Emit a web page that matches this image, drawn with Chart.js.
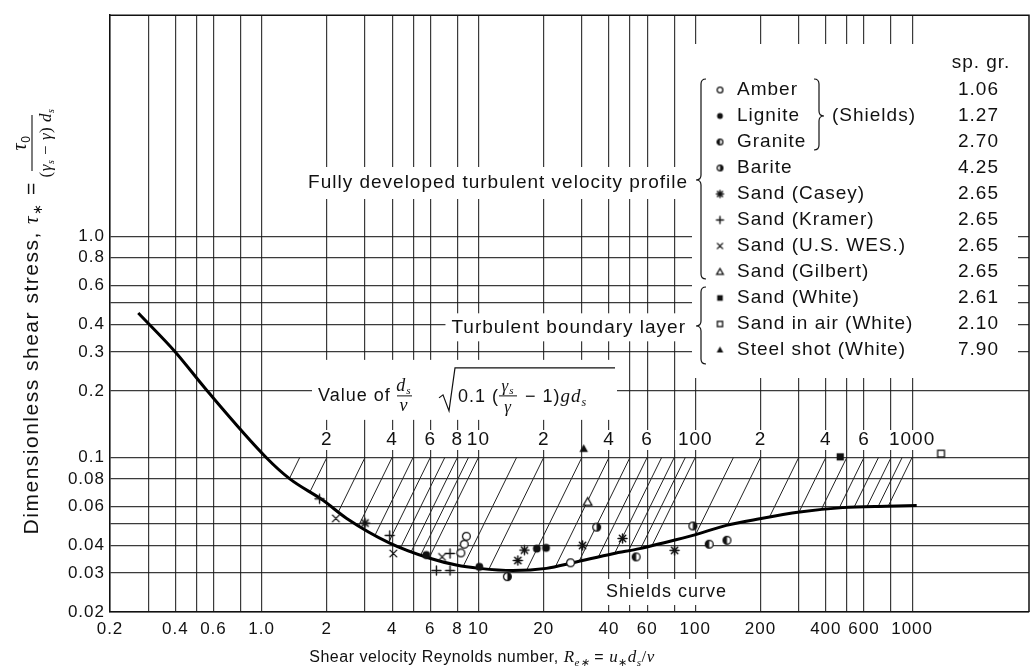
<!DOCTYPE html>
<html>
<head>
<meta charset="utf-8">
<title>Shields diagram</title>
<script src="https://cdn.jsdelivr.net/npm/chart.js@4.4.1/dist/chart.umd.min.js"></script>
<style>
  html, body { margin: 0; padding: 0; background: #fff; }
  canvas { display: block; }
</style>
</head>
<body>
<canvas id="shields" width="1035" height="668"></canvas>
<script>
// Shields curve (shear velocity Reynolds number, dimensionless shear stress)
const curveR   = [0.27, 0.40, 0.55, 1.05, 1.35, 1.92, 2.47, 3.9, 5.97, 7.9, 10.1, 14.4, 20.6, 27.3, 41.7, 55.4, 68.5, 97.5, 139, 198, 303, 479, 759, 1050];
const curveTau = [0.45, 0.30, 0.205, 0.10, 0.08, 0.064, 0.053, 0.041, 0.035, 0.0326, 0.0315, 0.0308, 0.0315, 0.0334, 0.0367, 0.0387, 0.0407, 0.0444, 0.0493, 0.0528, 0.0566, 0.0593, 0.0602, 0.0606];

// Lines of constant (d_s/ν)·√(0.1(γs/γ−1)g d_s); each one leaves τ* = 0.1 at R* equal to its value
const nomoValues = [1.5, 2, 3, 4, 5, 6, 7, 8, 9, 10, 15, 20, 30, 40, 50, 60, 70, 80, 90, 100, 150, 200, 300, 400, 500, 600, 700, 800, 900, 1000];
const nomoTicks  = [2, 4, 6, 8, 10, 20, 40, 60, 100, 200, 400, 600, 1000];
const nomoLabels = ['2', '4', '6', '8', '10', '2', '4', '6', '100', '2', '4', '6', '1000'];

// Axes
const xGrid = [0.2, 0.3, 0.4, 0.5, 0.6, 0.8, 1, 2, 3, 4, 5, 6, 8, 10, 20, 30, 40, 50, 60, 80, 100, 200, 300, 400, 500, 600, 800, 1000];
const xLabelValues = [0.2, 0.4, 0.6, 1, 2, 4, 6, 8, 10, 20, 40, 60, 100, 200, 400, 600, 1000];
const xLabelTexts  = ['0.2', '0.4', '0.6', '1.0', '2', '4', '6', '8', '10', '20', '40', '60', '100', '200', '400', '600', '1000'];
const yGrid = [0.02, 0.03, 0.04, 0.05, 0.06, 0.08, 0.1, 0.2, 0.3, 0.4, 0.5, 0.6, 0.8, 1];
const yLabelValues = [0.02, 0.03, 0.04, 0.06, 0.08, 0.1, 0.2, 0.3, 0.4, 0.6, 0.8, 1];
const yLabelTexts  = ['0.02', '0.03', '0.04', '0.06', '0.08', '0.1', '0.2', '0.3', '0.4', '0.6', '0.8', '1.0'];

// Experimental points (R*, τ*)
const amberR     = [8.3, 8.6, 8.8, 26.6];          const amberTau     = [0.037, 0.0405, 0.044, 0.0334];
const ligniteR   = [5.75, 10.1, 18.6, 20.5];       const ligniteTau   = [0.0362, 0.032, 0.0387, 0.039];
const graniteR   = [53.4, 116, 140];               const graniteTau   = [0.0355, 0.0405, 0.0422];
const bariteR    = [13.6, 35.1, 97.5];             const bariteTau    = [0.0289, 0.0484, 0.049];
const caseyR     = [3.0, 15.2, 16.3, 30.2, 46.2, 80.3]; const caseyTau = [0.0505, 0.0342, 0.0381, 0.040, 0.043, 0.038];
const kramerR    = [1.85, 3.9, 6.4, 7.4, 7.4];     const kramerTau    = [0.065, 0.0444, 0.0308, 0.0308, 0.0368];
const wesR       = [2.2, 4.05, 6.8];               const wesTau       = [0.053, 0.0368, 0.0355];
const gilbertR   = [31.9];                         const gilbertTau   = [0.0628];
const whiteSandR = [466];                          const whiteSandTau = [0.1006];
const airSandR   = [1360];                         const airSandTau   = [0.104];
const steelR     = [30.6];                         const steelTau     = [0.1095];

const seriesNames = ['Amber', 'Lignite', 'Granite', 'Barite', 'Sand (Casey)', 'Sand (Kramer)', 'Sand (U.S. WES.)', 'Sand (Gilbert)', 'Sand (White)', 'Sand in air (White)', 'Steel shot (White)'];
const specificGravity = ['1.06', '1.27', '2.70', '4.25', '2.65', '2.65', '2.65', '2.65', '2.61', '2.10', '7.90'];
const seriesR   = [amberR, ligniteR, graniteR, bariteR, caseyR, kramerR, wesR, gilbertR, whiteSandR, airSandR, steelR];
const seriesTau = [amberTau, ligniteTau, graniteTau, bariteTau, caseyTau, kramerTau, wesTau, gilbertTau, whiteSandTau, airSandTau, steelTau];
const markerKinds = ['circleOpen', 'circleFilled', 'circleHalfL', 'circleHalfR', 'asterisk', 'plus', 'cross', 'triangleOpen', 'squareFilled', 'squareOpen', 'triangleFilled'];

const INK = '#111';
const SANS = '"Liberation Sans", Arial, Helvetica, sans-serif';
const SERIF = '"Liberation Serif", "Times New Roman", serif';

// ---------- marker glyphs ----------
function makeMarker(kind, size) {
  const s = Math.ceil(size + 4);
  const c = document.createElement('canvas');
  c.width = s; c.height = s;
  const g = c.getContext('2d');
  const m = s / 2, r = size / 2;
  g.strokeStyle = INK; g.fillStyle = INK; g.lineWidth = 1.3; g.lineCap = 'round';
  const circle = () => { g.beginPath(); g.arc(m, m, r - 0.6, 0, Math.PI * 2); };
  switch (kind) {
    case 'circleOpen':
      circle(); g.fillStyle = '#fff'; g.fill(); g.stroke(); break;
    case 'circleFilled':
      circle(); g.fill(); break;
    case 'circleHalfL':
    case 'circleHalfR': {
      circle(); g.fillStyle = '#fff'; g.fill();
      g.fillStyle = INK; g.beginPath();
      if (kind === 'circleHalfL') g.arc(m, m, r - 0.6, Math.PI / 2, Math.PI * 1.5);
      else g.arc(m, m, r - 0.6, -Math.PI / 2, Math.PI / 2);
      g.closePath(); g.fill();
      circle(); g.stroke(); break;
    }
    case 'asterisk':
      g.lineWidth = 1.5;
      for (let k = 0; k < 4; k++) {
        const a = k * Math.PI / 4;
        g.beginPath(); g.moveTo(m - Math.cos(a) * r, m - Math.sin(a) * r); g.lineTo(m + Math.cos(a) * r, m + Math.sin(a) * r); g.stroke();
      }
      g.beginPath(); g.arc(m, m, r * 0.45, 0, Math.PI * 2); g.fill(); break;
    case 'plus':
      g.lineWidth = 1.4;
      g.beginPath(); g.moveTo(m - r, m); g.lineTo(m + r, m); g.moveTo(m, m - r); g.lineTo(m, m + r); g.stroke(); break;
    case 'cross': {
      const d = r * 0.75; g.lineWidth = 1.4;
      g.beginPath(); g.moveTo(m - d, m - d); g.lineTo(m + d, m + d); g.moveTo(m + d, m - d); g.lineTo(m - d, m + d); g.stroke(); break;
    }
    case 'triangleOpen':
    case 'triangleFilled':
      g.beginPath(); g.moveTo(m, m - r); g.lineTo(m + r * 0.95, m + r * 0.7); g.lineTo(m - r * 0.95, m + r * 0.7); g.closePath();
      if (kind === 'triangleFilled') g.fill(); else { g.fillStyle = '#fff'; g.fill(); g.stroke(); }
      break;
    case 'squareFilled':
      g.fillRect(m - r * 0.8, m - r * 0.8, r * 1.6, r * 1.6); break;
    case 'squareOpen':
      g.fillStyle = '#fff'; g.fillRect(m - r * 0.75, m - r * 0.75, r * 1.5, r * 1.5);
      g.strokeRect(m - r * 0.75, m - r * 0.75, r * 1.5, r * 1.5); break;
  }
  return c;
}
const plotMarkers = markerKinds.map(k => makeMarker(k, 9));
const legendMarkers = markerKinds.map(k => makeMarker(k, 7));

// ---------- nomograph line ends on the Shields curve ----------
const logCR = curveR.map(Math.log10), logCT = curveTau.map(Math.log10);
function curveLogTau(lr) {
  if (lr <= logCR[0]) return logCT[0];
  for (let i = 1; i < logCR.length; i++) {
    if (lr <= logCR[i]) {
      const f = (lr - logCR[i - 1]) / (logCR[i] - logCR[i - 1]);
      return logCT[i - 1] + f * (logCT[i] - logCT[i - 1]);
    }
  }
  return logCT[logCT.length - 1];
}
function nomoFoot(P) {
  const lp = Math.log10(P);
  for (let k = 0; k <= 4000; k++) {
    const lr = lp - k * 0.0005;
    const lt = -1 + 2 * (lr - lp);          // τ* = 0.1 (R*/P)^2
    if (lt <= curveLogTau(lr)) return { x: Math.pow(10, lr), y: Math.pow(10, lt) };
  }
  return { x: P, y: 0.1 };
}

// ---------- datasets ----------
const datasets = [];
seriesNames.forEach((name, i) => {
  datasets.push({
    label: name,
    data: seriesR[i].map((r, j) => ({ x: r, y: seriesTau[i][j] })),
    pointStyle: plotMarkers[i],
    pointRadius: 5,
    showLine: false
  });
});
datasets.push({
  label: 'Shields curve',
  data: curveR.map((r, i) => ({ x: r, y: curveTau[i] })),
  showLine: true, pointRadius: 0, borderColor: '#000', borderWidth: 3,
  cubicInterpolationMode: 'monotone'
});
nomoValues.forEach(P => {
  datasets.push({
    label: 'nomo ' + P,
    data: [{ x: P, y: 0.1 }, nomoFoot(P)],
    showLine: true, pointRadius: 0, borderColor: '#222', borderWidth: 1
  });
});

// ---------- text helpers ----------
function font(size, opt = {}) {
  return (opt.italic ? 'italic ' : '') + size + 'px ' + (opt.serif ? SERIF : SANS);
}
function text(ctx, s, x, y, size, align = 'left', opt = {}) {
  ctx.font = font(size, opt);
  ctx.textAlign = align;
  ctx.textBaseline = opt.baseline || 'middle';
  ctx.fillText(s, x, y);
  return ctx.measureText(s).width;
}
// runs of text: {t, size, italic, serif, dy}
function runs(ctx, parts, x, y, align = 'left') {
  ctx.textBaseline = 'alphabetic';
  ctx.textAlign = 'left';
  const widths = parts.map(p => { ctx.font = font(p.size, p); return ctx.measureText(p.t).width + (p.gap || 0); });
  const total = widths.reduce((a, b) => a + b, 0);
  let cx = align === 'center' ? x - total / 2 : align === 'right' ? x - total : x;
  parts.forEach((p, i) => { ctx.font = font(p.size, p); ctx.fillText(p.t, cx, y + (p.dy || 0)); cx += widths[i]; });
  return total;
}
function brace(ctx, x, y1, y2, ym, dir) {
  // dir = -1: tip points left "{", dir = +1: tip points right "}"
  const e = -dir * 5, t = dir * 5, k = 5;
  ctx.beginPath();
  ctx.moveTo(x + e, y1);
  ctx.quadraticCurveTo(x, y1, x, y1 + k);
  ctx.lineTo(x, ym - k);
  ctx.quadraticCurveTo(x, ym, x + t, ym);
  ctx.quadraticCurveTo(x, ym, x, ym + k);
  ctx.lineTo(x, y2 - k);
  ctx.quadraticCurveTo(x, y2, x + e, y2);
  ctx.stroke();
}
function whiteBox(ctx, x0, y0, x1, y1) {
  ctx.fillStyle = '#fff';
  ctx.fillRect(x0, y0, x1 - x0, y1 - y0);
  ctx.fillStyle = INK;
}

const decor = {
  id: 'decor',
  beforeDraw(chart) { chart.ctx.letterSpacing = '1px'; },
  beforeDatasetsDraw(chart) {
    const { ctx, chartArea: a, scales: { x, y } } = chart;
    ctx.save();
    ctx.letterSpacing = '1px';
    ctx.fillStyle = INK; ctx.strokeStyle = INK;

    // frame: top and right edges
    ctx.lineWidth = 1.5;
    ctx.beginPath();
    ctx.moveTo(a.left, a.top); ctx.lineTo(a.right, a.top); ctx.lineTo(a.right, a.bottom);
    ctx.stroke();

    // label for the upper region
    let w = text(ctx, 'Fully developed turbulent velocity profile', 0, -100, 19);
    whiteBox(ctx, 688 - w - 6, 167, 692, 199);
    text(ctx, 'Fully developed turbulent velocity profile', 688, 183, 19, 'right');

    // boundary layer label on the 0.4 line
    const y04 = y.getPixelForValue(0.4) + 3;
    w = text(ctx, 'Turbulent boundary layer', 0, -100, 19);
    whiteBox(ctx, 686 - w - 6, y04 - 14, 692, y04 + 14);
    text(ctx, 'Turbulent boundary layer', 686, y04, 19, 'right');

    // legend block
    whiteBox(ctx, 692, 44, 1018, 378);
    text(ctx, 'sp. gr.', 981, 63, 19, 'center');
    ctx.lineWidth = 1.2;
    seriesNames.forEach((name, i) => {
      const ry = 90 + 26 * i;
      const mk = legendMarkers[i];
      ctx.drawImage(mk, 720 - mk.width / 2, ry - mk.height / 2);
      text(ctx, name, 737, ry, 19, 'left');
      text(ctx, specificGravity[i], 999, ry, 19, 'right');
    });
    brace(ctx, 701, 79, 279, 180, -1);
    brace(ctx, 701, 287, 364, 326, -1);
    brace(ctx, 819, 79, 150, 116, 1);
    text(ctx, '(Shields)', 832, 116, 19, 'left');

    // nomograph caption on the 0.2 line
    const yv = y.getPixelForValue(0.2) + 5;
    whiteBox(ctx, 312, yv - 36, 617, yv + 24);
    text(ctx, 'Value of', 318, yv, 18, 'left');
    ctx.lineWidth = 1;
    // d_s / ν
    runs(ctx, [{ t: 'd', size: 18, italic: true, serif: true }, { t: 's', size: 11, italic: true, serif: true, dy: 3 }], 404, yv - 5, 'center');
    ctx.beginPath(); ctx.moveTo(397, yv); ctx.lineTo(412, yv); ctx.stroke();
    runs(ctx, [{ t: 'ν', size: 18, italic: true, serif: true }], 404, yv + 15, 'center');
    // radical
    ctx.lineWidth = 1.2;
    ctx.beginPath();
    ctx.moveTo(439, yv + 2); ctx.lineTo(443, yv - 1); ctx.lineTo(449, yv + 15); ctx.lineTo(455, yv - 28); ctx.lineTo(615, yv - 28);
    ctx.stroke();
    runs(ctx, [{ t: '0.1 (', size: 18 }], 458, yv + 6);
    runs(ctx, [{ t: 'γ', size: 17, italic: true, serif: true }, { t: 's', size: 11, italic: true, serif: true, dy: 3 }], 508, yv - 5, 'center');
    ctx.lineWidth = 1;
    ctx.beginPath(); ctx.moveTo(499, yv); ctx.lineTo(517, yv); ctx.stroke();
    runs(ctx, [{ t: 'γ', size: 17, italic: true, serif: true }], 508, yv + 16, 'center');
    runs(ctx, [
      { t: ' − 1)', size: 18 },
      { t: 'gd', size: 19, italic: true, serif: true },
      { t: 's', size: 12, italic: true, serif: true, dy: 4 }
    ], 519, yv + 6);

    // values along τ* = 0.1
    const yt = 440;
    nomoTicks.forEach((v, i) => {
      const px = x.getPixelForValue(v);
      const tw = text(ctx, nomoLabels[i], 0, -100, 19);
      whiteBox(ctx, px - tw / 2 - 3, yt - 10, px + tw / 2 + 3, yt + 10);
      text(ctx, nomoLabels[i], px, yt, 19, 'center');
    });

    // curve caption
    w = text(ctx, 'Shields curve', 0, -100, 18);
    whiteBox(ctx, 603, 579, 606 + w + 4, 605);
    text(ctx, 'Shields curve', 606, 592, 18, 'left');
    ctx.restore();
  },
  afterDraw(chart) {
    const { ctx } = chart;
    ctx.save();
    ctx.fillStyle = INK; ctx.strokeStyle = INK;
    ctx.letterSpacing = '0.5px';
    // x-axis title
    runs(ctx, [
      { t: 'Shear velocity Reynolds number, ', size: 16 },
      { t: 'R', size: 17, italic: true, serif: true },
      { t: 'e∗', size: 11, italic: true, serif: true, dy: 4 },
      { t: ' = ', size: 16 },
      { t: 'u', size: 17, italic: true, serif: true },
      { t: '∗', size: 11, serif: true, dy: 4 },
      { t: 'd', size: 17, italic: true, serif: true },
      { t: 's', size: 11, italic: true, serif: true, dy: 4 },
      { t: '/', size: 17, serif: true },
      { t: 'ν', size: 17, italic: true, serif: true }
    ], 482, 662, 'center');

    // y-axis title (rotated)
    ctx.translate(38, 348);
    ctx.rotate(-Math.PI / 2);
    ctx.letterSpacing = '1.5px';
    runs(ctx, [
      { t: 'Dimensionless shear stress, ', size: 21 },
      { t: 'τ', size: 21, italic: true, serif: true },
      { t: '∗', size: 13, serif: true, dy: 4 },
      { t: ' = ', size: 21 }
    ], 174, 0, 'right');
    ctx.letterSpacing = '0.5px';
    ctx.lineWidth = 1.1;
    ctx.beginPath(); ctx.moveTo(177, -6); ctx.lineTo(233, -6); ctx.stroke();
    runs(ctx, [{ t: 'τ', size: 20, italic: true, serif: true }, { t: '0', size: 12, dy: 4 }], 205, -12, 'center');
    runs(ctx, [
      { t: '(', size: 17, serif: true },
      { t: 'γ', size: 17, italic: true, serif: true },
      { t: 's', size: 10, italic: true, serif: true, dy: 3 },
      { t: ' − ', size: 17, serif: true },
      { t: 'γ', size: 17, italic: true, serif: true },
      { t: ')', size: 17, serif: true },
      { t: ' d', size: 17, italic: true, serif: true },
      { t: 's', size: 10, italic: true, serif: true, dy: 3 }
    ], 205, 13, 'center');
    ctx.restore();
  },
  afterRender(chart) { chart.ctx.letterSpacing = '0px'; }
};

function labelFor(values, texts, v) {
  for (let i = 0; i < values.length; i++) if (Math.abs(values[i] - v) / values[i] < 1e-6) return texts[i];
  return '';
}

new Chart(document.getElementById('shields'), {
  type: 'scatter',
  data: { datasets },
  options: {
    responsive: false,
    animation: false,
    events: [],
    layout: { padding: { top: 11, right: 5, left: 0, bottom: 0 } },
    plugins: { legend: { display: false }, tooltip: { enabled: false } },
    scales: {
      x: {
        type: 'logarithmic', min: 0.2, max: 3460,
        afterBuildTicks: s => { s.ticks = xGrid.map(v => ({ value: v })); },
        afterFit: s => { s.height = 56; },
        ticks: {
          autoSkip: false, maxRotation: 0, minRotation: 0, padding: 7, color: INK,
          font: { family: SANS, size: 17 },
          callback: v => labelFor(xLabelValues, xLabelTexts, v)
        },
        grid: { color: 'rgba(25,25,25,0.85)', lineWidth: 1.2, drawTicks: false },
        border: { display: true, color: INK, width: 1.5 }
      },
      y: {
        type: 'logarithmic', min: 0.02, max: 10,
        afterBuildTicks: s => { s.ticks = yGrid.map(v => ({ value: v })); },
        afterFit: s => { s.width = 110; },
        ticks: {
          autoSkip: false, padding: 5, color: INK,
          font: { family: SANS, size: 17 },
          callback: v => labelFor(yLabelValues, yLabelTexts, v)
        },
        grid: { color: 'rgba(25,25,25,0.85)', lineWidth: 1.2, drawTicks: false },
        border: { display: true, color: INK, width: 1.5 }
      }
    }
  },
  plugins: [decor]
});
</script>
</body>
</html>
